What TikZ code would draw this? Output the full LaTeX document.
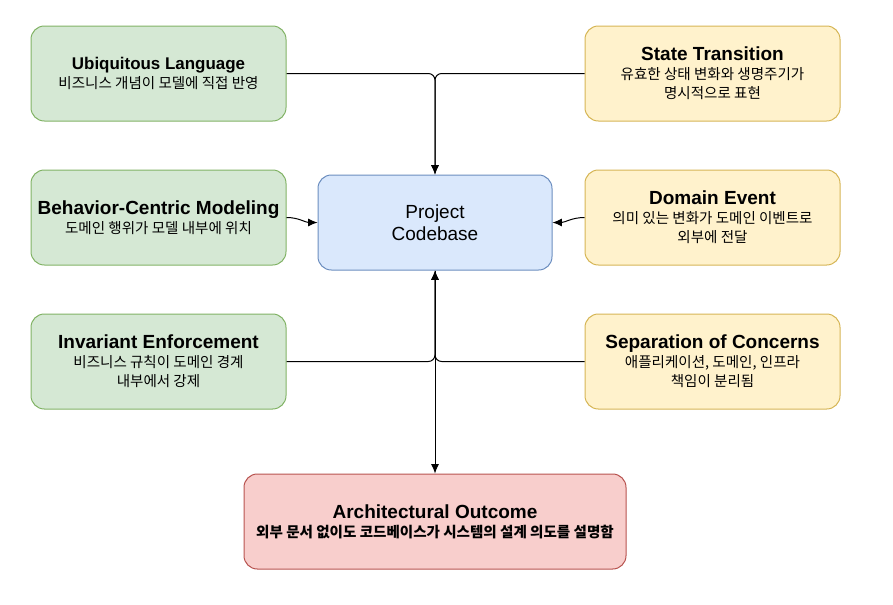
\documentclass[tikz,border=0pt]{standalone}
\usepackage{fontspec}
\setmainfont{Liberation Sans}
\newfontfamily\kr{Noto Sans CJK KR}
\usepackage{tikz}
\usetikzlibrary{positioning,arrows.meta}
\newlength{\rowgap}
\setlength{\rowgap}{36pt}
\newlength{\colgap}
\setlength{\colgap}{23.25pt}
\definecolor{greenfill}{HTML}{D5E8D4}
\definecolor{greenline}{HTML}{82B366}
\definecolor{yellowfill}{HTML}{FFF2CC}
\definecolor{yellowline}{HTML}{D6B656}
\definecolor{bluefill}{HTML}{DAE8FC}
\definecolor{blueline}{HTML}{6C8EBF}
\definecolor{redfill}{HTML}{F8CECC}
\definecolor{redline}{HTML}{B85450}
\newcommand{\ttl}[1]{{\fontsize{14.25pt}{14.25pt}\selectfont\rmfamily\bfseries #1}}
\tikzset{
  card/.style={rectangle, rounded corners=10pt, draw, line width=0.75pt,
    minimum width=191.25pt, minimum height=71.25pt, align=center, inner sep=2pt,
    font=\fontsize{10.9pt}{14.25pt}\selectfont\kr},
  greenbox/.style={card, fill=greenfill, draw=greenline},
  yellowbox/.style={card, fill=yellowfill, draw=yellowline},
  corebox/.style={card, fill=bluefill, draw=blueline, minimum width=175.5pt,
    font=\fontsize{14.25pt}{16.8pt}\selectfont\rmfamily},
  outcomebox/.style={card, fill=redfill, draw=redline, minimum width=286.5pt},
  conn/.style={-{Latex[length=7pt,width=6pt]}, line width=0.75pt, rounded corners=5pt},
}

\begin{document}
\begin{tikzpicture}[x=0.75pt, y=-0.75pt]
    \useasboundingbox (0,0) rectangle (893,604);

    % Core node
    \node[corebox] (code) at (435,222.5) {Project\\Codebase};

    % Left column
    \node[greenbox, left=\colgap of code, yshift=3.75pt] (behav) {\ttl{Behavior-Centric Modeling}\\도메인 행위가 모델 내부에 위치};
    \node[greenbox, above=\rowgap of behav] (ubiq) {{\fontsize{12.7pt}{13pt}\selectfont\rmfamily\bfseries Ubiquitous Language}\\비즈니스 개념이 모델에 직접 반영};
    \node[greenbox, below=\rowgap of behav] (inv) {\ttl{Invariant Enforcement}\\비즈니스 규칙이 도메인 경계\\내부에서 강제};

    % Right column
    \node[yellowbox, right=24pt of code, yshift=3.75pt] (event) {\ttl{Domain Event}\\의미 있는 변화가 도메인 이벤트로\\외부에 전달};
    \node[yellowbox, above=\rowgap of event] (state) {\ttl{State Transition}\\유효한 상태 변화와 생명주기가\\명시적으로 표현};
    \node[yellowbox, below=\rowgap of event] (sep) {\ttl{Separation of Concerns}\\애플리케이션, 도메인, 인프라\\책임이 분리됨};

    % Outcome
    \node[outcomebox, below=152.25pt of code] (out) {\ttl{Architectural Outcome}\\{\bfseries 외부 문서 없이도 코드베이스가 시스템의 설계 의도를 설명함}};

    % Top row into codebase
    \draw[conn] (ubiq.east) -| (code.north);
    \draw[conn] (state.west) -| (code.north);

    % Middle row into codebase
    \draw[conn] (behav.east) to[out=0, in=180] (code.west);
    \draw[conn] (event.west) to[out=180, in=0] (code.east);

    % Bottom row into codebase
    \draw[conn] (inv.east) -| (code.south);
    \draw[conn] (sep.west) -| (code.south);

    % Codebase to outcome
    \draw[conn] (code.south) -- (out.north);
\end{tikzpicture}
\end{document}
